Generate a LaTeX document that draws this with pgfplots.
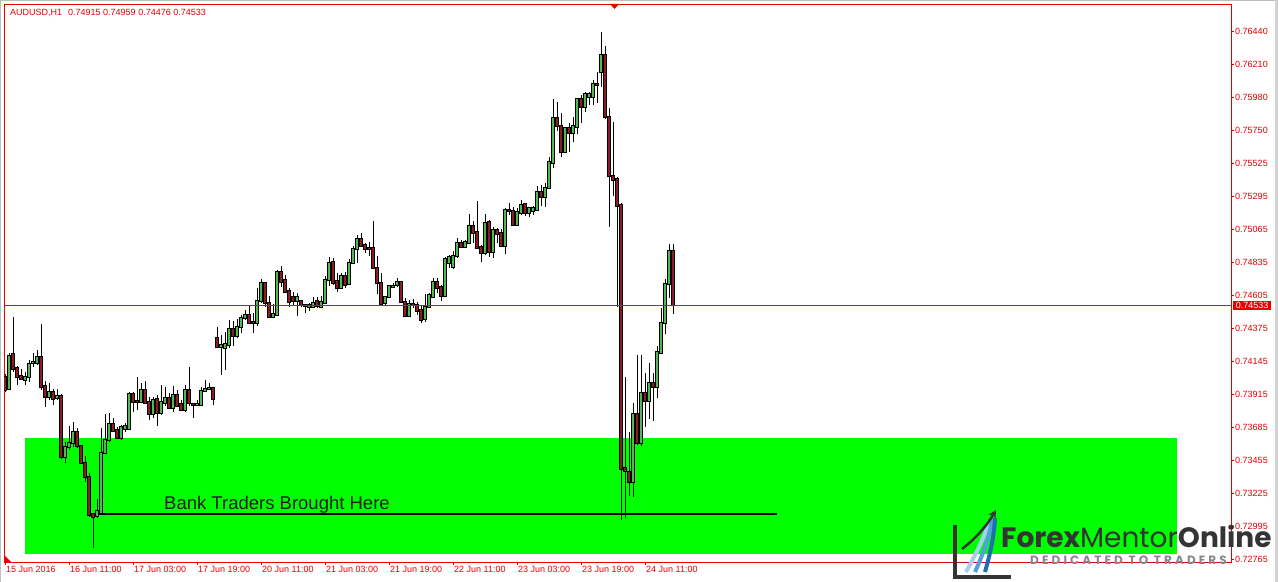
\documentclass[border=0pt]{standalone}
\usepackage{fontspec}
\setmainfont{Liberation Sans}
\newfontfamily\pop{Poppins}
\usepackage{pgfplots}
\pgfplotsset{compat=1.18}
\usepackage{pgfplotstable}
\usetikzlibrary{arrows.meta}
\definecolor{bull}{RGB}{80,185,80}
\definecolor{bear}{RGB}{140,28,36}
\definecolor{mtred}{RGB}{230,0,0}
\definecolor{zone}{RGB}{0,255,0}
\definecolor{logodark}{RGB}{52,52,52}
\definecolor{logogray}{RGB}{135,135,135}
\definecolor{blueA}{RGB}{160,210,240}
\definecolor{blueB}{RGB}{80,160,220}
\definecolor{blueC}{RGB}{30,110,180}

\pgfplotstableread{
i o h l c
0 0.74035 0.74056 0.73930 0.73944
1 0.73951 0.74202 0.73944 0.74181
2 0.74195 0.74453 0.74070 0.74090
3 0.74097 0.74111 0.73979 0.74035
4 0.74042 0.74090 0.74014 0.74021
5 0.74014 0.74070 0.73979 0.74035
6 0.74035 0.74153 0.74000 0.74125
7 0.74132 0.74202 0.74104 0.74139
8 0.74132 0.74223 0.74118 0.74174
9 0.74174 0.74404 0.73944 0.73965
10 0.73972 0.74007 0.73826 0.73895
11 0.73895 0.73993 0.73875 0.73930
12 0.73930 0.73951 0.73840 0.73882
13 0.73889 0.73951 0.73875 0.73902
14 0.73902 0.73916 0.73463 0.73477
15 0.73477 0.73582 0.73436 0.73547
16 0.73547 0.73693 0.73526 0.73575
17 0.73575 0.73721 0.73547 0.73652
18 0.73652 0.73680 0.73540 0.73554
19 0.73554 0.73561 0.73429 0.73436
20 0.73436 0.73484 0.73303 0.73338
21 0.73338 0.73366 0.73059 0.73073
22 0.73080 0.73087 0.72843 0.73059
23 0.73066 0.73185 0.73052 0.73101
24 0.73087 0.73680 0.73080 0.73505
25 0.73505 0.73777 0.73498 0.73596
26 0.73596 0.73784 0.73582 0.73707
27 0.73707 0.73749 0.73652 0.73659
28 0.73666 0.73687 0.73603 0.73610
29 0.73610 0.73700 0.73596 0.73687
30 0.73673 0.73714 0.73652 0.73693
31 0.73673 0.73930 0.73666 0.73916
32 0.73916 0.73930 0.73791 0.73861
33 0.73868 0.74035 0.73805 0.73861
34 0.73861 0.73993 0.73854 0.73944
35 0.73944 0.74007 0.73847 0.73854
36 0.73861 0.73895 0.73735 0.73777
37 0.73777 0.73895 0.73749 0.73875
38 0.73882 0.73909 0.73693 0.73784
39 0.73784 0.73979 0.73770 0.73861
40 0.73854 0.73965 0.73833 0.73889
41 0.73889 0.73923 0.73812 0.73819
42 0.73819 0.73972 0.73791 0.73909
43 0.73909 0.73944 0.73826 0.73833
44 0.73847 0.73875 0.73798 0.73805
45 0.73805 0.73979 0.73791 0.73944
46 0.73944 0.74104 0.73833 0.73854
47 0.73847 0.73854 0.73749 0.73840
48 0.73840 0.73875 0.73833 0.73847
49 0.73840 0.73965 0.73840 0.73937
50 0.73937 0.74014 0.73930 0.73951
51 0.73951 0.73993 0.73944 0.73958
52 0.73958 0.73965 0.73840 0.73882
53 0.74306 0.74383 0.74237 0.74244
54 0.74244 0.74327 0.74049 0.74258
55 0.74237 0.74348 0.74084 0.74265
56 0.74258 0.74432 0.74237 0.74369
57 0.74369 0.74425 0.74251 0.74320
58 0.74320 0.74439 0.74306 0.74383
59 0.74383 0.74467 0.74341 0.74446
60 0.74446 0.74502 0.74432 0.74467
61 0.74467 0.74530 0.74404 0.74411
62 0.74418 0.74481 0.74341 0.74411
63 0.74411 0.74655 0.74390 0.74564
64 0.74564 0.74718 0.74550 0.74690
65 0.74690 0.74697 0.74523 0.74550
66 0.74550 0.74599 0.74446 0.74453
67 0.74453 0.74543 0.74446 0.74474
68 0.74467 0.74780 0.74460 0.74766
69 0.74766 0.74808 0.74662 0.74697
70 0.74711 0.74745 0.74620 0.74627
71 0.74634 0.74655 0.74523 0.74557
72 0.74592 0.74627 0.74530 0.74564
73 0.74564 0.74620 0.74460 0.74592
74 0.74564 0.74571 0.74523 0.74537
75 0.74537 0.74543 0.74481 0.74530
76 0.74523 0.74550 0.74495 0.74537
77 0.74523 0.74592 0.74516 0.74550
78 0.74564 0.74592 0.74516 0.74530
79 0.74523 0.74599 0.74516 0.74557
80 0.74550 0.74738 0.74550 0.74711
81 0.74711 0.74871 0.74669 0.74829
82 0.74836 0.74864 0.74676 0.74690
83 0.74704 0.74759 0.74627 0.74655
84 0.74655 0.74759 0.74648 0.74738
85 0.74738 0.74766 0.74655 0.74676
86 0.74683 0.74857 0.74676 0.74829
87 0.74829 0.74947 0.74822 0.74927
88 0.74927 0.75024 0.74829 0.74996
89 0.74996 0.75038 0.74940 0.74947
90 0.74954 0.74968 0.74899 0.74927
91 0.74934 0.74975 0.74878 0.74927
92 0.74934 0.75121 0.74787 0.74794
93 0.74794 0.74878 0.74613 0.74690
94 0.74690 0.74759 0.74537 0.74543
95 0.74550 0.74592 0.74530 0.74592
96 0.74592 0.74676 0.74585 0.74669
97 0.74662 0.74690 0.74655 0.74669
98 0.74676 0.74725 0.74662 0.74697
99 0.74697 0.74704 0.74550 0.74557
100 0.74557 0.74585 0.74453 0.74460
101 0.74460 0.74571 0.74453 0.74543
102 0.74543 0.74578 0.74516 0.74537
103 0.74537 0.74557 0.74467 0.74495
104 0.74502 0.74537 0.74411 0.74432
105 0.74439 0.74613 0.74418 0.74523
106 0.74523 0.74620 0.74516 0.74606
107 0.74592 0.74725 0.74585 0.74697
108 0.74697 0.74725 0.74620 0.74655
109 0.74662 0.74676 0.74564 0.74599
110 0.74599 0.74871 0.74592 0.74857
111 0.74829 0.74885 0.74794 0.74871
112 0.74801 0.74913 0.74787 0.74878
113 0.74878 0.75003 0.74864 0.74968
114 0.74968 0.74989 0.74934 0.74940
115 0.74940 0.74989 0.74934 0.74975
116 0.74968 0.75170 0.74961 0.75087
117 0.75087 0.75121 0.74968 0.75038
118 0.75045 0.75261 0.74927 0.74934
119 0.74940 0.74954 0.74836 0.74899
120 0.74899 0.75170 0.74885 0.75107
121 0.75114 0.75128 0.74871 0.74906
122 0.74906 0.75080 0.74864 0.75059
123 0.75059 0.75073 0.74968 0.75031
124 0.75038 0.75066 0.74940 0.74947
125 0.74947 0.75212 0.74892 0.75198
126 0.75198 0.75247 0.75163 0.75191
127 0.75191 0.75219 0.75087 0.75094
128 0.75094 0.75212 0.75087 0.75184
129 0.75177 0.75268 0.75163 0.75233
130 0.75240 0.75247 0.75156 0.75177
131 0.75177 0.75219 0.75149 0.75212
132 0.75191 0.75226 0.75163 0.75212
133 0.75198 0.75365 0.75191 0.75324
134 0.75324 0.75372 0.75226 0.75289
135 0.75289 0.75386 0.75219 0.75351
136 0.75351 0.75567 0.75344 0.75532
137 0.75525 0.75971 0.75490 0.75839
138 0.75839 0.75950 0.75748 0.75783
139 0.75783 0.75874 0.75567 0.75602
140 0.75602 0.75776 0.75595 0.75769
141 0.75769 0.75804 0.75602 0.75734
142 0.75734 0.75846 0.75672 0.75783
143 0.75776 0.75978 0.75727 0.75971
144 0.75971 0.75999 0.75804 0.75916
145 0.75916 0.76020 0.75881 0.76006
146 0.75985 0.76020 0.75930 0.76006
147 0.75985 0.76104 0.75930 0.76076
148 0.76076 0.76160 0.75943 0.76069
149 0.76160 0.76438 0.76055 0.76278
150 0.76278 0.76341 0.75832 0.75846
151 0.75846 0.75909 0.75080 0.75435
152 0.75435 0.75811 0.75296 0.75407
153 0.75414 0.75428 0.74523 0.75226
154 0.75233 0.75247 0.73039 0.73394
155 0.73401 0.74035 0.73052 0.73380
156 0.73373 0.73652 0.73206 0.73303
157 0.73303 0.73854 0.73199 0.73777
158 0.73777 0.74188 0.73561 0.73575
159 0.73575 0.74188 0.73554 0.73923
160 0.73923 0.74063 0.73687 0.73868
161 0.73868 0.74132 0.73742 0.73993
162 0.73993 0.74063 0.73728 0.73965
163 0.73965 0.74251 0.73889 0.74209
164 0.74202 0.74516 0.74195 0.74411
165 0.74411 0.74718 0.74334 0.74683
166 0.74683 0.74961 0.74585 0.74913
167 0.74915 0.74959 0.74476 0.74533
}\candles

\begin{document}
\begin{tikzpicture}
\useasboundingbox (0,0) rectangle (1278bp,582bp);
\fill[white] (0,0) rectangle (1278bp,582bp);
\begin{axis}[
  at={(4bp,20bp)}, anchor=south west, scale only axis,
  width=1227bp, height=558bp,
  xmin=-0.25, xmax=306.5, ymin=0.72746, ymax=0.76633,
  clip mode=individual,
  axis line style={mtred, line width=0.8bp},
  tick align=outside, major tick length=3bp,
  tick style={mtred, line width=0.7bp},
  xtick pos=left, ytick pos=right, xticklabel pos=left, yticklabel pos=right,
  scaled y ticks=false,
  xtick={0,16,...,160},
  xticklabels={15 Jun 2016,16 Jun 11:00,17 Jun 03:00,17 Jun 19:00,20 Jun 11:00,21 Jun 03:00,21 Jun 19:00,22 Jun 11:00,23 Jun 03:00,23 Jun 19:00,24 Jun 11:00},
  ytick={0.72765,0.72995,0.73225,0.73455,0.73685,0.73915,0.74145,0.74375,0.74605,0.74835,0.75065,0.75295,0.75525,0.75750,0.75980,0.76210,0.76440},
  yticklabels={0.72765,0.72995,0.73225,0.73455,0.73685,0.73915,0.74145,0.74375,0.74605,0.74835,0.75065,0.75295,0.75525,0.75750,0.75980,0.76210,0.76440},
  tick label style={font=\fontsize{9bp}{10bp}\selectfont, text=mtred},
  xticklabel style={anchor=north west, inner sep=1bp},
  yticklabel style={anchor=west, inner sep=1bp},
]
% support / demand zone
\addplot[fill=zone, draw=none, forget plot] coordinates {(5,0.72800) (293.1,0.72800) (293.1,0.73612) (5,0.73612)} -- cycle;
% bank traders line
\addplot[color=black, mark=none, solid, line width=2bp, forget plot] coordinates {(23,0.73081) (193,0.73081)};
% wicks
\addplot[draw=none, mark=none, forget plot,
  error bars/.cd, y dir=plus, y explicit, error mark=none,
  error bar style={draw=black, solid, line width=0.9bp, line cap=butt}]
  table[x=i, y=l, y error plus expr={\thisrow{h}-\thisrow{l}}] {\candles};
% body outlines
\addplot[draw=none, mark=none, forget plot,
  error bars/.cd, y dir=plus, y explicit, error mark=none,
  error bar style={draw=black, solid, line width=3.4bp, line cap=butt}]
  table[x=i, y expr={min(\thisrow{o},\thisrow{c})-0.00007}, y error plus expr={abs(\thisrow{c}-\thisrow{o})+0.00014}] {\candles};
% bull bodies
\addplot[draw=none, mark=none, forget plot,
  error bars/.cd, y dir=plus, y explicit, error mark=none,
  error bar style={draw=bull, solid, line width=1.4bp, line cap=butt}]
  table[x=i, y=o, y error plus expr={max(\thisrow{c}-\thisrow{o},0)}] {\candles};
% bear bodies
\addplot[draw=none, mark=none, forget plot,
  error bars/.cd, y dir=plus, y explicit, error mark=none,
  error bar style={draw=bear, solid, line width=1.4bp, line cap=butt}]
  table[x=i, y=c, y error plus expr={max(\thisrow{o}-\thisrow{c},0)}] {\candles};
% current price line (bid line), a thin red band
\addplot[fill=red, draw=none, forget plot] coordinates {(-0.25,0.74528) (306.5,0.74528) (306.5,0.74538) (-0.25,0.74538)} -- cycle;
\node[anchor=base west, inner sep=0, text={rgb,255:red,30;green,30;blue,30}, font=\fontsize{18.5bp}{20bp}\selectfont] at (axis cs:39.75,0.73115) {Bank Traders Brought Here};
\node[anchor=west, fill=mtred, text=white, inner xsep=3bp, inner ysep=1.2bp, font=\fontsize{9bp}{10bp}\selectfont] at (axis cs:306.9,0.74533) {0.74533};
\end{axis}
\begin{scope}[x=1bp,y=1bp]
% header
\node[anchor=west, inner sep=0, text=mtred, font=\fontsize{9bp}{10bp}\selectfont] at (10,569.5) {AUDUSD,H1\hspace{6bp}0.74915 0.74959 0.74476 0.74533};
% chart shift markers
\fill[mtred] (610,578) -- (619,578) -- (614.5,573) -- cycle;
\fill[mtred] (4,20) -- (4,27) -- (11,20) -- cycle;
% window frame
\draw[gray!50, line width=1bp] (0.5,0) -- (0.5,581.5) -- (1275,581.5);
\fill[gray!35] (1275,0) rectangle (1278,582);
% logo
\draw[blueA, line width=4bp] (966,10) .. controls (976,28) and (984,44) .. (989,60);
\draw[blueB, line width=4bp] (975,10) .. controls (983,28) and (989,44) .. (992,62);
\draw[blueC, line width=4bp] (985,10) .. controls (990,28) and (994,44) .. (995,64);
\draw[logodark, line width=2.5bp, -{Stealth[length=8bp,width=8bp]}] (962,33) .. controls (975,43) and (986,55) .. (996,72);
\draw[logodark, line width=3.5bp] (955,57) -- (955,5) -- (1011,5);
\node[anchor=base west, inner sep=0, text=logodark, font=\pop\fontsize{28bp}{28bp}\selectfont] at (1001,35) {\textbf{Forex}Mentor\textbf{Online}};
\node[anchor=base west, inner sep=0, text=logogray, font=\pop\bfseries\fontsize{12bp}{12bp}\selectfont\addfontfeatures{LetterSpace=26}] at (1030,18) {DEDICATED TO TRADERS};
\end{scope}
\end{tikzpicture}
\end{document}
